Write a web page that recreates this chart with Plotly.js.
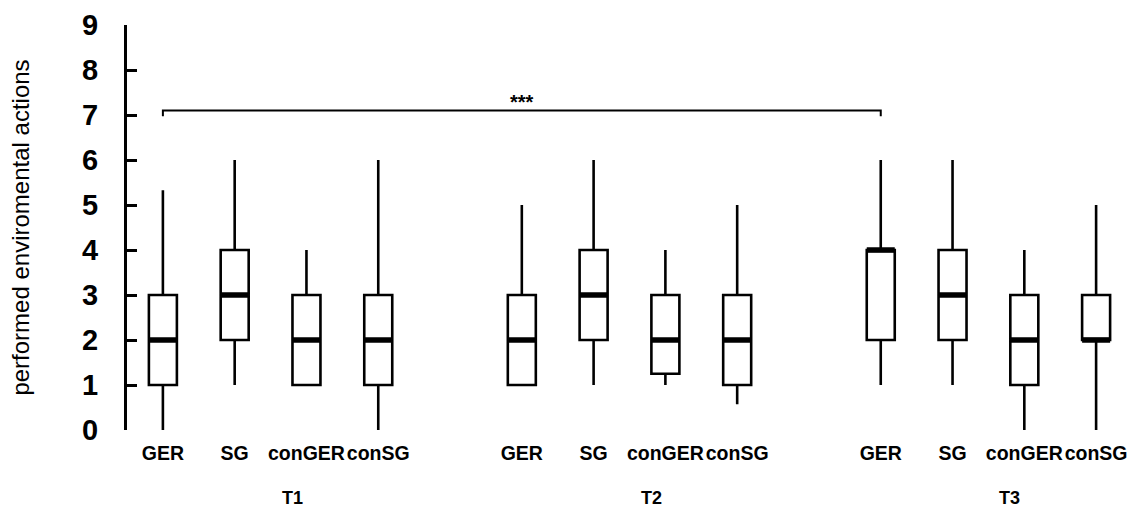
<!DOCTYPE html>
<html>
<head>
<meta charset="utf-8">
<script src="https://cdn.plot.ly/plotly-3.0.1.min.js"></script>
<style>
  html, body { margin: 0; padding: 0; background: #fff; }
  #chart { width: 1132px; height: 507px; }
</style>
</head>
<body>
<div id="chart"></div>
<script>
// Groups and measurement points
const conditions = ['GER', 'SG', 'conGER', 'conSG'];
const timepoints = ['T1', 'T2', 'T3'];

// Box statistics, ordered T1 (GER, SG, conGER, conSG), T2 (...), T3 (...)
const lowerFence = [0, 1, 1, 0,    1, 1, 1, 0.57,   1, 1, 0, 0];
const q1         = [1, 2, 1, 1,    1, 2, 1.25, 1,   2, 2, 1, 2];
const median     = [2, 3, 2, 2,    2, 3, 2, 2,      4, 3, 2, 2];
const q3         = [3, 4, 3, 3,    3, 4, 3, 3,      4, 4, 3, 3];
const upperFence = [5.33, 6, 4, 6, 5, 6, 4, 5,      6, 6, 4, 5];

// Significance bracket: between T1 GER and T3 GER
const sigFrom = { time: 'T1', cond: 'GER' };
const sigTo   = { time: 'T3', cond: 'GER' };
const sigLevel = 7.1;
const sigLabel = '***';

const yTicks = [0, 1, 2, 3, 4, 5, 6, 7, 8, 9];
const yTitle = 'performed enviromental actions';

// ---- layout helpers ----
const FONT = 'Liberation Sans, Arial, sans-serif';
const groupGap = 1;          // empty slots between time points
const boxWidth = 0.39;
const slot = (t, c) => t * (conditions.length + groupGap) + c;

const xPos = [], xText = [];
timepoints.forEach((t, ti) => conditions.forEach((c, ci) => {
  xPos.push(slot(ti, ci));
  xText.push(c);
}));

const boxTrace = {
  type: 'box',
  x: xPos,
  lowerfence: lowerFence,
  q1: q1,
  median: median,
  q3: q3,
  upperfence: upperFence,
  width: boxWidth,
  whiskerwidth: 0,
  boxpoints: false,
  fillcolor: '#ffffff',
  line: { color: '#000000', width: 2.6 },
  hoverinfo: 'skip',
  showlegend: false
};

// thick median bars drawn over each box
const medX = [], medY = [];
xPos.forEach((p, i) => {
  medX.push(p - boxWidth / 2, p + boxWidth / 2, null);
  medY.push(median[i], median[i], null);
});
const medianTrace = {
  type: 'scatter', mode: 'lines',
  x: medX, y: medY,
  line: { color: '#000000', width: 5.5 },
  hoverinfo: 'skip', showlegend: false
};

const x0 = slot(timepoints.indexOf(sigFrom.time), conditions.indexOf(sigFrom.cond));
const x1 = slot(timepoints.indexOf(sigTo.time), conditions.indexOf(sigTo.cond));
const drop = 0.13;

const groupAnnotations = timepoints.map((t, ti) => ({
  text: t,
  x: slot(ti, (conditions.length - 1) / 2) + 0.3,
  xref: 'x',
  y: -0.168, yref: 'paper',
  xanchor: 'center', yanchor: 'middle',
  showarrow: false,
  font: { family: FONT, size: 18, weight: 700, color: '#000' }
}));

const layout = {
  width: 1132, height: 507,
  margin: { l: 127, r: 0, t: 25, b: 77 },
  paper_bgcolor: '#ffffff', plot_bgcolor: '#ffffff',
  showlegend: false,
  xaxis: {
    range: [-0.5, slot(timepoints.length - 1, conditions.length - 1) + 0.5],
    tickvals: xPos, ticktext: xText,
    tickangle: 0,
    ticks: '', showline: false, showgrid: false, zeroline: false,
    ticklabelstandoff: 9,
    tickfont: { family: FONT, size: 19.5, weight: 700, color: '#000' },
    automargin: false, fixedrange: true
  },
  yaxis: {
    range: [0, 9],
    tickvals: yTicks,
    ticks: 'inside', ticklen: 10, tickwidth: 3, tickcolor: '#000',
    showline: true, linewidth: 3, linecolor: '#000',
    showgrid: false, zeroline: false,
    ticklabelstandoff: 20,
    tickfont: { family: FONT, size: 29, weight: 700, color: '#000' },
    title: { text: yTitle, standoff: 46, font: { family: FONT, size: 24, color: '#000' } },
    automargin: false, fixedrange: true
  },
  shapes: [{
    type: 'path', xref: 'x', yref: 'y',
    path: `M ${x0},${sigLevel - drop} L ${x0},${sigLevel} L ${x1},${sigLevel} L ${x1},${sigLevel - drop}`,
    line: { color: '#000', width: 2 }
  }],
  annotations: [{
    text: sigLabel,
    x: (x0 + x1) / 2, xref: 'x',
    y: sigLevel, yref: 'y',
    xanchor: 'center', yanchor: 'bottom', yshift: -4,
    showarrow: false,
    font: { family: FONT, size: 20, weight: 700, color: '#000' }
  }].concat(groupAnnotations)
};

Plotly.newPlot('chart', [boxTrace, medianTrace], layout, { staticPlot: true, displayModeBar: false });
</script>
</body>
</html>
